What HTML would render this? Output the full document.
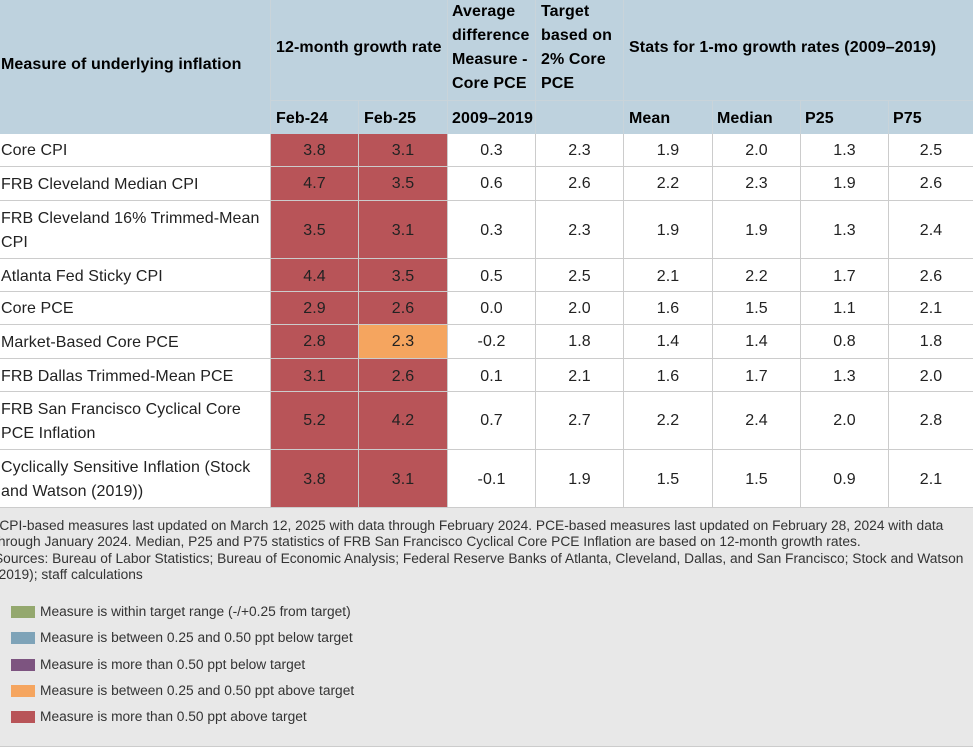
<!DOCTYPE html>
<html lang="en">
<head>
<meta charset="utf-8">
<title>Measures of underlying inflation</title>
<style>
html,body{margin:0;padding:0;background:#fff}
body{width:973px;height:747px;position:relative;overflow:hidden;font-family:"Liberation Sans",Arial,sans-serif;color:#222}
table{position:absolute;left:0;top:0;width:973px;border-collapse:separate;border-spacing:0;table-layout:fixed;font-size:16px;line-height:24px;letter-spacing:.08px}
td,th{padding:0;border-right:1px solid #ccc;border-bottom:1px solid #ccc;overflow:visible}
td:last-child,th:last-child{border-right:0}
thead th{background:#bed2de;border-color:#c9d4da;color:#000;font-weight:bold;text-align:left;padding-left:5px;white-space:nowrap;letter-spacing:.1px}
thead th.top{padding-bottom:4px}
thead th.measure{padding:0 0 4px 1px;border-bottom:0}
thead tr.sub th{border-bottom:0;padding-top:3px}
thead th.p4{padding-left:4px}
tbody td{text-align:center;padding-top:1px}
tbody td.name{text-align:left;padding-left:1px;white-space:nowrap;padding-top:2px}
tbody tr.down td{padding-top:3px}
tbody tr.down td.name{padding-top:4px}
tbody tr.down-values td{padding-top:3px}
tbody tr.down-values td.name{padding-top:2px}
td.red{background:#b85458}
td.orange{background:#f5a55f}
.r1{height:101px}.r2{height:33px}
#footer{position:absolute;left:0;top:508px;width:973px;height:238px;background:#e8e8e8;border-bottom:1px solid #ccc;font-size:13.76px;color:#333}
.note{position:absolute;left:-6px;white-space:nowrap;line-height:16px;height:16px}
.sw{position:absolute;left:11px;width:24px;height:12px}
.lb{position:absolute;left:40px;white-space:nowrap;line-height:16px}
</style>
</head>
<body>
<table>
<colgroup><col style="width:271px"><col style="width:88px"><col style="width:89px"><col style="width:88px"><col style="width:88px"><col style="width:89px"><col style="width:88px"><col style="width:88px"><col style="width:84px"></colgroup>
<thead>
<tr class="r1">
<th class="measure" rowspan="2">Measure of underlying inflation</th>
<th class="top" colspan="2">12-month growth rate</th>
<th class="top p4">Average<br>difference<br>Measure -<br>Core PCE</th>
<th class="top">Target<br>based on<br>2% Core<br>PCE</th>
<th class="top" colspan="4">Stats for 1-mo growth rates (2009–2019)</th>
</tr>
<tr class="r2 sub">
<th>Feb-24</th>
<th>Feb-25</th>
<th class="p4">2009–2019</th>
<th></th>
<th>Mean</th>
<th class="p4">Median</th>
<th class="p4">P25</th>
<th class="p4">P75</th>
</tr>
</thead>
<tbody>
<tr style="height:33px"><td class="name">Core CPI</td><td class="red">3.8</td><td class="red">3.1</td><td>0.3</td><td>2.3</td><td>1.9</td><td>2.0</td><td>1.3</td><td>2.5</td></tr>
<tr style="height:34px"><td class="name">FRB Cleveland Median CPI</td><td class="red">4.7</td><td class="red">3.5</td><td>0.6</td><td>2.6</td><td>2.2</td><td>2.3</td><td>1.9</td><td>2.6</td></tr>
<tr class="down-values" style="height:58px"><td class="name">FRB Cleveland 16% Trimmed-Mean<br>CPI</td><td class="red">3.5</td><td class="red">3.1</td><td>0.3</td><td>2.3</td><td>1.9</td><td>1.9</td><td>1.3</td><td>2.4</td></tr>
<tr class="down" style="height:33px"><td class="name">Atlanta Fed Sticky CPI</td><td class="red">4.4</td><td class="red">3.5</td><td>0.5</td><td>2.5</td><td>2.1</td><td>2.2</td><td>1.7</td><td>2.6</td></tr>
<tr style="height:33px"><td class="name">Core PCE</td><td class="red">2.9</td><td class="red">2.6</td><td>0.0</td><td>2.0</td><td>1.6</td><td>1.5</td><td>1.1</td><td>2.1</td></tr>
<tr style="height:34px"><td class="name">Market-Based Core PCE</td><td class="red">2.8</td><td class="orange">2.3</td><td>-0.2</td><td>1.8</td><td>1.4</td><td>1.4</td><td>0.8</td><td>1.8</td></tr>
<tr class="down" style="height:33px"><td class="name">FRB Dallas Trimmed-Mean PCE</td><td class="red">3.1</td><td class="red">2.6</td><td>0.1</td><td>2.1</td><td>1.6</td><td>1.7</td><td>1.3</td><td>2.0</td></tr>
<tr style="height:58px"><td class="name">FRB San Francisco Cyclical Core<br>PCE Inflation</td><td class="red">5.2</td><td class="red">4.2</td><td>0.7</td><td>2.7</td><td>2.2</td><td>2.4</td><td>2.0</td><td>2.8</td></tr>
<tr class="down-values" style="height:58px"><td class="name">Cyclically Sensitive Inflation (Stock<br>and Watson (2019))</td><td class="red">3.8</td><td class="red">3.1</td><td>-0.1</td><td>1.9</td><td>1.5</td><td>1.5</td><td>0.9</td><td>2.1</td></tr>
</tbody>
</table>
<div id="footer">
<div class="note" style="top:10px">*CPI-based measures last updated on March 12, 2025 with data through February 2024. PCE-based measures last updated on February 28, 2024 with data</div>
<div class="note" style="top:26px">through January 2024. Median, P25 and P75 statistics of FRB San Francisco Cyclical Core PCE Inflation are based on 12-month growth rates.</div>
<div class="note" style="top:43px">Sources: Bureau of Labor Statistics; Bureau of Economic Analysis; Federal Reserve Banks of Atlanta, Cleveland, Dallas, and San Francisco; Stock and Watson</div>
<div class="note" style="top:59px">(2019); staff calculations</div>
<div class="sw" style="top:98px;background:#94a86e"></div>
<div class="lb" style="top:96px">Measure is within target range (-/+0.25 from target)</div>
<div class="sw" style="top:124px;background:#7ea3b8"></div>
<div class="lb" style="top:122px">Measure is between 0.25 and 0.50 ppt below target</div>
<div class="sw" style="top:151px;background:#7d5480"></div>
<div class="lb" style="top:149px">Measure is more than 0.50 ppt below target</div>
<div class="sw" style="top:177px;background:#f5a55f"></div>
<div class="lb" style="top:175px">Measure is between 0.25 and 0.50 ppt above target</div>
<div class="sw" style="top:203px;background:#b85458"></div>
<div class="lb" style="top:201px">Measure is more than 0.50 ppt above target</div>
</div>
</body>
</html>
